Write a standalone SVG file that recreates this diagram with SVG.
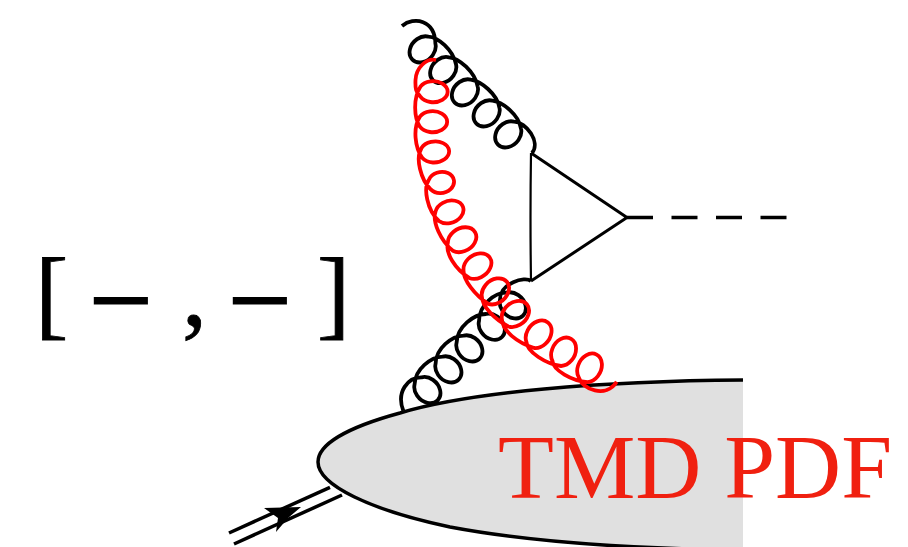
<svg xmlns="http://www.w3.org/2000/svg" width="908" height="547" viewBox="0 0 908 547">
<style>
.g{fill:none;stroke-linecap:butt;stroke-linejoin:round;stroke-width:3.8}
.k{stroke:#000}
.r{stroke:#f00}
.l{fill:none;stroke:#000;stroke-width:3}
.q{fill:none;stroke:#000;stroke-width:3.5}
.t{font-family:"Liberation Serif","Times New Roman",serif;fill:#000;stroke:#000}
</style>
<rect width="908" height="547" fill="#fff"/>
<g id="blob">
<path d="M743,380 C600,381 470,392 400,413 C345,428 318,445 318,462 C318,485 370,510 450,527 C530,542 620,547 690,549 L743,549" fill="#e0e0e0" stroke="none"/>
<path d="M743,380 C600,381 470,392 400,413 C345,428 318,445 318,462 C318,485 370,510 450,527 C530,542 620,547 690,549" fill="none" stroke="#000" stroke-width="3.5"/>
</g>
<g id="connectors">
<path id="gluon-top" class="g k" d="M402,26 C414,16 435,20 435.4,43.6 A14.5,11.5 -45 1 1 428.4,36.6 C438,37 453,50 456,64.3 A14.5,11.5 -45 1 1 449,57.3 C459,58 475,72 477.7,86.6 A14.5,11.5 -45 1 1 470.7,79.6 C481,81 497,94 499.4,107.6 A14.5,11.5 -45 1 1 492.4,100.6 C503,102 519,115 521,128.6 A14.5,11.5 -45 1 1 514,121.6 C526,122 541,142 532,153"/>
<path id="gluon-bottom" class="g k" d="M531,281 C525,276 500,283 500,299.6 A14.5,11.5 45 1 0 507,292.6 C495,292 479,305 479,321 A14.5,11.5 45 1 0 486,314 C474,314 457,327 456.6,342.6 A14.5,11.5 45 1 0 463.6,335.6 C452,336 436,348 435.6,363.6 A14.5,11.5 45 1 0 442.6,356.6 C431,357 415,369 414.6,384.3 A14.5,11.5 45 1 0 421.6,377.3 C408,377 396,392 403.3,410.7"/>
<path id="triangle-top" class="l" d="M531,153 L627,217.5 L531,281"/>
<path id="triangle-left" fill="none" stroke="#000" stroke-width="2.2" d="M531,153 Q530,217 531,281"/>
<path id="scalar" fill="none" stroke="#000" stroke-width="3.4" stroke-dasharray="26,18.5" d="M627,217.5 H787"/>
<path id="quark-a" class="q" d="M229,533 L330,487.3"/>
<path id="quark-b" class="q" d="M234,544 L342,495"/>
<polygon id="quark-arrow" fill="#000" points="264,508 301,507 288,518 276,532 278,518"/>
<path id="gluon-red" class="g r" d="M436,60 C426,58 416,68 415.5,80 S417,91.7 420.4,96.7 A14.5,10.5 0 1 0 420.4,86.7 C413,98 414,118 419.9,126.7 A14.5,10.5 0 1 0 419.9,116.7 C412.5,128 415,148 422.4,158.1 A14.5,10.5 -5 1 0 421.5,148.1 C415,158 421,180 430.7,189.4 A13,10.5 -10 1 0 429,179.5 C423,188 427,210 438.9,221 A14.5,11 -20 1 0 435.5,211.6 C432,222 441,241 452.9,250.8 A15,11.5 -30 1 0 447.9,242.2 C445,253 455,269 469.2,277.9 A15,11.5 -35 1 0 463.5,269.7 C463,280 475,295 488.3,303.9 A15,11.5 -40 1 0 481.8,296.2 C482,307 495,319 508.3,326.5 A15,11.5 -40 1 0 501.8,318.8 C502,331 518,343 534.2,348 A15,11.5 -52 1 0 526.4,341.9 C527,352 546,364 561.1,366 A15,11.5 -60 1 0 552.5,361 C553,370 572,381 587.6,382.1 A15,11.5 -62 1 0 578.8,377.4 C582,389 606,399 616.7,381.7"/>
</g>
<g id="bracket">
<text class="t" x="35" y="327" font-size="100" stroke-width="0.8">[</text>
<text class="t" x="89" y="338" font-size="112" stroke-width="2">−</text>
<text class="t" x="182" y="325" font-size="100" stroke-width="0.8">,</text>
<text class="t" x="228" y="338" font-size="112" stroke-width="2">−</text>
<text class="t" x="317" y="327" font-size="100" stroke-width="0.8">]</text>
</g>
<g id="label-tmd">
<text x="498" y="498" font-size="91.5" font-family="'Liberation Serif','Times New Roman',serif" fill="#f02010">TMD PDF</text>
</g>
</svg>
